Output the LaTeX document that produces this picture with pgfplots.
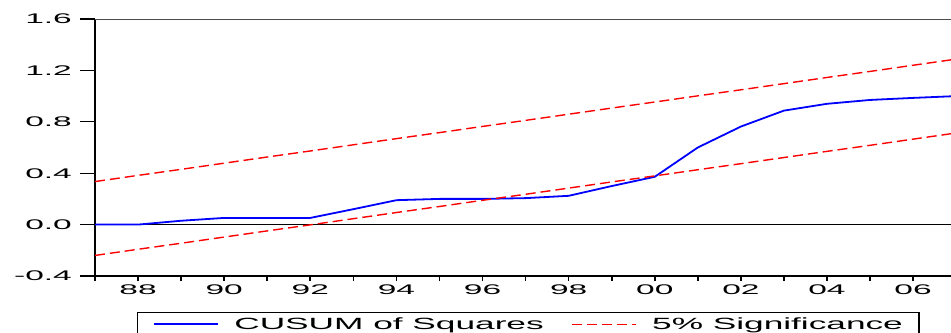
\documentclass[border=0pt]{standalone}
\usepackage{fontspec}
\setmainfont{Liberation Sans}
\newfontfamily\tickfont{Liberation Sans}[FakeStretch=2.4]
\newfontfamily\legfont{Liberation Sans}[FakeStretch=2.17]
\usepackage{pgfplots}
\pgfplotsset{compat=1.18}
\definecolor{ebl}{RGB}{0,0,255}
\definecolor{ered}{RGB}{255,0,0}
\begin{document}
\begin{tikzpicture}
\begin{axis}[
  at={(95bp,57bp)}, anchor=south west,
  scale only axis, width=856bp, height=257bp,
  xmin=1987, xmax=2006.88, ymin=-0.4, ymax=1.6,
  axis x line*=bottom, axis y line*=left,
  x axis line style={line width=1.6bp, black},
  y axis line style={line width=1.8bp, black},
  tick align=outside,
  major tick length=15bp,
  minor tick length=5bp,
  xtick={1988,1990,...,2006},
  xticklabels={88,90,92,94,96,98,00,02,04,06},
  minor xtick={1987,1988,...,2006},
  major x tick style={draw=none},
  minor x tick style={line width=1.6bp, black},
  ytick={-0.4,0,0.4,0.8,1.2,1.6},
  yticklabels={-0.4,0.0,0.4,0.8,1.2,1.6},
  y tick style={line width=1.2bp, black},
  xticklabel style={font=\tickfont\fontsize{14}{16}\selectfont, inner sep=0pt, yshift=6bp},
  yticklabel style={font=\tickfont\fontsize{14}{16}\selectfont, inner sep=0pt, xshift=-8bp},
  legend columns=2,
  legend image code/.code={\draw[#1] (0bp,0bp) -- (64bp,0bp);},
  legend style={at={(0.049,-0.14)}, anchor=north west, draw=black, line width=1.2bp,
    font=\legfont\fontsize{16.3}{18}\selectfont, inner xsep=16bp, inner ysep=5bp,
    nodes={inner sep=0pt},
    /tikz/every odd column/.append style={column sep=15bp},
    /tikz/every even column/.append style={column sep=28bp}},
]
\addplot[black, line width=0.9bp, forget plot] coordinates {(1987,0) (2007,0)};
\addplot[ebl, line width=1.8bp] coordinates {
(1987,0.000) (1988,0.000) (1989,0.030) (1990,0.052) (1991,0.052) (1992,0.052)
(1993,0.120) (1994,0.190) (1995,0.200) (1996,0.200) (1997,0.206) (1998,0.224)
(1999,0.300) (2000,0.372) (2001,0.600) (2002,0.763) (2003,0.887) (2004,0.940)
(2005,0.970) (2006,0.986) (2007,1.000)};
\addlegendentry{CUSUM of Squares}
\addplot[ered, line width=1.4bp, dash pattern=on 10bp off 5bp] coordinates {
(1987,0.335) (1988,0.383) (1989,0.430) (1990,0.478) (1991,0.526) (1992,0.573)
(1993,0.621) (1994,0.669) (1995,0.716) (1996,0.764) (1997,0.811) (1998,0.859)
(1999,0.907) (2000,0.954) (2001,1.002) (2002,1.049) (2003,1.097) (2004,1.145)
(2005,1.192) (2006,1.240) (2007,1.288)};
\addlegendentry{5\% Significance}
\addplot[ered, line width=1.4bp, dash pattern=on 10bp off 5bp, forget plot] coordinates {
(1987,-0.240) (1988,-0.192) (1989,-0.145) (1990,-0.097) (1991,-0.049) (1992,-0.002)
(1993,0.046) (1994,0.094) (1995,0.141) (1996,0.189) (1997,0.236) (1998,0.284)
(1999,0.332) (2000,0.379) (2001,0.427) (2002,0.474) (2003,0.522) (2004,0.570)
(2005,0.617) (2006,0.665) (2007,0.713)};
\draw[black!70, line width=0.9bp] (rel axis cs:0,1) -- (rel axis cs:1,1);
\end{axis}
\pgfresetboundingbox
\useasboundingbox (0,0) rectangle (951bp,333bp);
\end{tikzpicture}
\end{document}
